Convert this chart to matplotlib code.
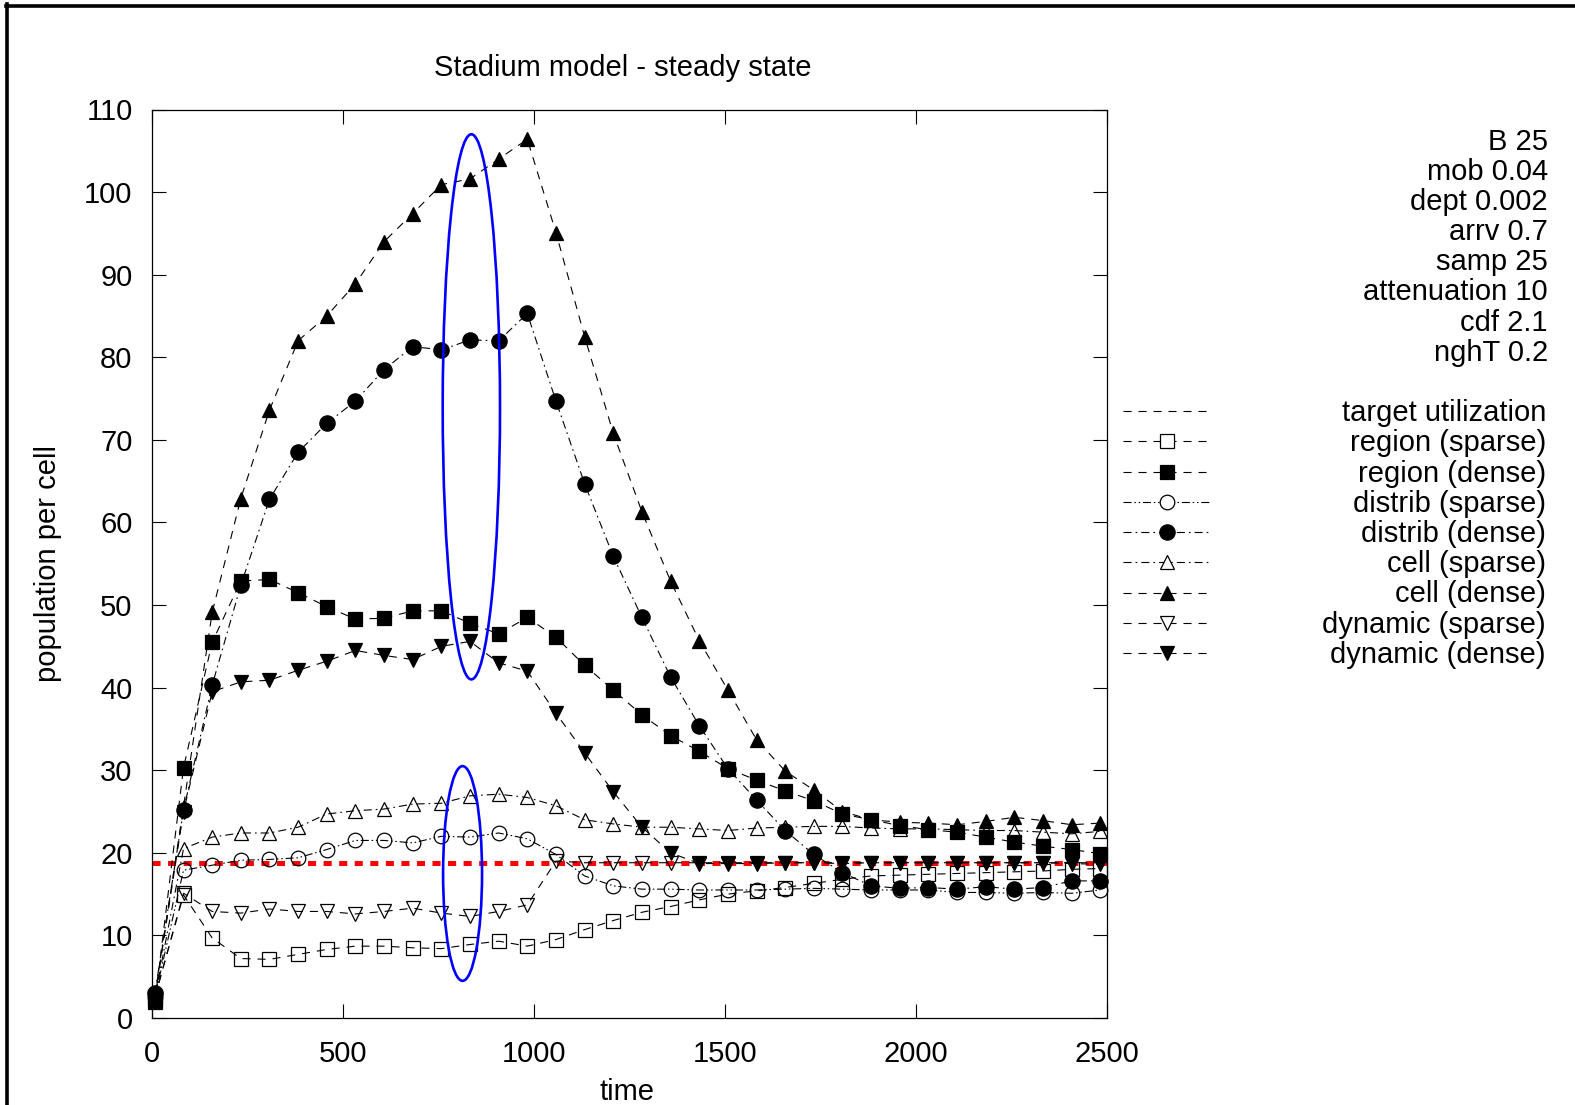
import matplotlib
matplotlib.use('Agg')
import matplotlib.pyplot as plt
from matplotlib.lines import Line2D
from matplotlib.patches import Ellipse

plt.rcParams['font.family'] = ['Liberation Sans', 'DejaVu Sans']
plt.rcParams['lines.scale_dashes'] = False

# === data ===
time = [7.5, 82.5, 157.5, 232.5, 307.5, 382.5, 457.5, 532.5, 607.5, 682.5,
        757.5, 832.5, 907.5, 982.5, 1057.5, 1132.5, 1207.5, 1282.5, 1357.5, 1432.5,
        1507.5, 1582.5, 1657.5, 1732.5, 1807.5, 1882.5, 1957.5, 2032.5, 2107.5, 2182.5,
        2257.5, 2332.5, 2407.5, 2482.5]

region_sparse = [2.5, 14.9, 9.7, 7.2, 7.1, 7.7, 8.3, 8.7, 8.7, 8.5,
                 8.4, 8.9, 9.3, 8.7, 9.5, 10.7, 11.8, 12.8, 13.5, 14.3,
                 15.0, 15.4, 15.8, 16.3, 16.8, 17.2, 17.3, 17.4, 17.5, 17.6,
                 17.7, 17.8, 18.0, 18.1]
region_dense = [1.9, 30.3, 45.5, 52.9, 53.1, 51.5, 49.8, 48.3, 48.4, 49.3,
                49.3, 47.8, 46.5, 48.5, 46.1, 42.7, 39.7, 36.7, 34.2, 32.3,
                30.2, 28.8, 27.5, 26.3, 24.7, 24.0, 23.3, 22.8, 22.5, 21.9,
                21.3, 20.8, 20.4, 19.9]
distrib_sparse = [2.5, 17.9, 18.5, 19.1, 19.2, 19.4, 20.4, 21.5, 21.5, 21.2,
                  22.0, 21.9, 22.4, 21.7, 19.8, 17.2, 16.0, 15.6, 15.6, 15.5,
                  15.5, 15.5, 15.6, 15.7, 15.6, 15.5, 15.5, 15.5, 15.2, 15.2,
                  15.1, 15.2, 15.1, 15.5]
distrib_dense = [3.0, 25.2, 40.3, 52.4, 62.8, 68.5, 72.0, 74.7, 78.5, 81.3,
                 80.9, 82.1, 82.0, 85.3, 74.7, 64.7, 55.9, 48.5, 41.3, 35.4,
                 30.2, 26.4, 22.7, 19.8, 17.6, 16.0, 15.7, 15.8, 15.6, 15.9,
                 15.6, 15.8, 16.6, 16.6]
cell_sparse = [2.5, 20.5, 21.9, 22.4, 22.4, 23.1, 24.7, 25.1, 25.3, 25.9,
               26.0, 26.9, 27.1, 26.7, 25.7, 24.0, 23.5, 23.1, 23.1, 22.9,
               22.7, 23.0, 23.1, 23.2, 23.2, 23.0, 22.9, 22.9, 22.8, 22.7,
               22.7, 22.5, 22.3, 22.6]
cell_dense = [2.5, 25.6, 49.1, 62.9, 73.6, 82.0, 85.0, 88.9, 94.0, 97.4,
              100.9, 101.6, 104.0, 106.4, 95.1, 82.5, 70.8, 61.3, 52.9, 45.7,
              39.7, 33.7, 29.9, 27.6, 25.0, 24.0, 23.7, 23.6, 23.4, 23.8,
              24.3, 23.9, 23.4, 23.6]
dynamic_sparse = [2.5, 15.1, 12.9, 12.7, 13.2, 12.9, 12.9, 12.6, 12.9, 13.3,
                  12.7, 12.3, 12.9, 13.7, 19.0, 18.8, 18.8, 18.8, 18.8, 18.8,
                  18.8, 18.8, 18.8, 18.8, 18.8, 18.8, 18.8, 18.8, 18.8, 18.8,
                  18.8, 18.8, 18.8, 18.8]
dynamic_dense = [2.5, 25.0, 39.5, 40.7, 40.9, 42.1, 43.2, 44.5, 43.9, 43.4,
                 45.0, 45.6, 43.0, 42.0, 36.9, 32.1, 27.4, 23.1, 20.0, 18.7,
                 18.7, 18.7, 18.8, 18.8, 18.7, 18.8, 18.8, 18.8, 18.8, 18.8,
                 18.8, 18.8, 18.7, 18.6]
target_level = 18.8

params = ['B 25', 'mob 0.04', 'dept 0.002', 'arrv 0.7', 'samp 25',
          'attenuation 10', 'cdf 2.1', 'nghT 0.2']

# === styles ===
DASH = (0, (5.8, 5.0))
DASHDOT = (0, (5.8, 2.9, 1.2, 2.9))
DASHDOTDOT = (0, (5.8, 2.0, 1.1, 2.0, 1.1, 2.0))

series = [
    # label, values, marker, filled, linestyle, markersize
    ('region (sparse)', region_sparse, 's', False, DASH, 10),
    ('region (dense)', region_dense, 's', True, DASH, 10.5),
    ('distrib (sparse)', distrib_sparse, 'o', False, DASHDOTDOT, 10.5),
    ('distrib (dense)', distrib_dense, 'o', True, DASHDOT, 11),
    ('cell (sparse)', cell_sparse, '^', False, DASHDOT, 10.5),
    ('cell (dense)', cell_dense, '^', True, DASH, 10.5),
    ('dynamic (sparse)', dynamic_sparse, 'v', False, DASH, 10.5),
    ('dynamic (dense)', dynamic_dense, 'v', True, DASH, 10.5),
]

FS = 21
W, H = 1575, 1105
fig = plt.figure(figsize=(W / 100, H / 100), dpi=100)
ax = fig.add_axes([152 / W, 1 - 1018 / H, 955 / W, 908.5 / H])

# target line
ax.plot([0, 2500], [target_level, target_level], color='red', lw=3.6,
        linestyle=(0, (5.8, 5.4)), zorder=2)

for label, vals, mk, filled, ls, ms in series:
    ax.plot(time, vals, color='black', lw=0.8, linestyle=ls, marker=mk,
            markersize=ms, markerfacecolor='black' if filled else 'none',
            markeredgecolor='black', markeredgewidth=0.9, clip_on=False, zorder=3)

# highlight ellipses
ax.add_patch(Ellipse((836, 74.0), 150, 66, fill=False, edgecolor='blue', lw=1.9, zorder=4))
ax.add_patch(Ellipse((813, 17.5), 102, 26, fill=False, edgecolor='blue', lw=1.9, zorder=4))

ax.set_xlim(0, 2500)
ax.set_ylim(0, 110)
ax.set_xticks(range(0, 2501, 500))
ax.set_yticks(range(0, 111, 10))
ax.tick_params(direction='in', length=10, width=0.8, top=True, right=True,
               labelsize=FS)
ax.tick_params(axis='y', pad=14)
ax.tick_params(axis='x', pad=16)
for sp in ax.spines.values():
    sp.set_linewidth(0.9)

ax.set_title('Stadium model - steady state', fontsize=FS, pad=24, x=0.493)
ax.set_xlabel('time', fontsize=FS)
ax.set_ylabel('population per cell', fontsize=FS)
ax.xaxis.set_label_coords(0.497, -0.066)
ax.yaxis.set_label_coords(-0.094, 0.5)

# parameter block on the right
for i, txt in enumerate(params):
    fig.text(1548 / W, 1 - (150 + 30.1 * i) / H, txt, ha='right', va='baseline',
             fontsize=FS)

# hand-made legend
leg_rows = [('target utilization', None, False, DASH, 0)] + \
           [(lab, mk, fil, ls, ms) for lab, _, mk, fil, ls, ms in series]
for i, (lab, mk, fil, ls, ms) in enumerate(leg_rows):
    y = 1 - (411 + 30.25 * i) / H
    fig.add_artist(Line2D([1123 / W, 1209 / W], [y, y], transform=fig.transFigure,
                          color='black', lw=0.8, linestyle=ls))
    if mk:
        fig.add_artist(Line2D([1167 / W], [y], transform=fig.transFigure,
                              marker=mk, markersize=ms, linestyle='none',
                              markerfacecolor='black' if fil else 'white',
                              markeredgecolor='black', markeredgewidth=0.9))
    fig.text(1546 / W, y - 10 / H, lab, ha='right', va='baseline', fontsize=FS)

# outer frame (top and left edges)
fig.add_artist(Line2D([6 / W, 1.0], [1 - 5.5 / H, 1 - 5.5 / H],
                      transform=fig.transFigure, color='black', lw=2.6))
fig.add_artist(Line2D([6.5 / W, 6.5 / W], [0, 1 - 4 / H],
                      transform=fig.transFigure, color='black', lw=2.6))

fig.savefig('out.png', dpi=100)
